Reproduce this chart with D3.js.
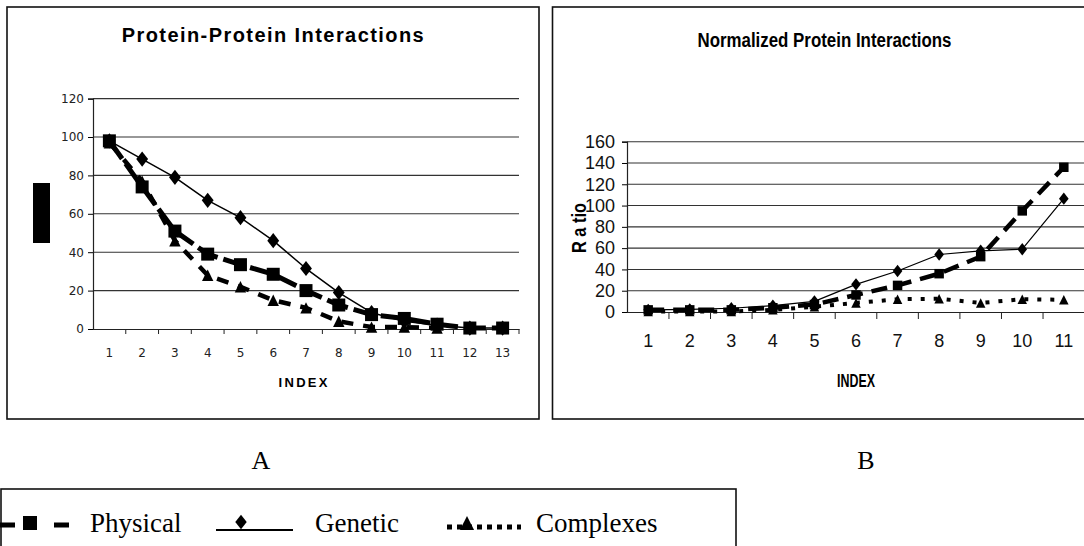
<!DOCTYPE html>
<html><head><meta charset="utf-8">
<script src="https://cdn.jsdelivr.net/npm/d3@7"></script>
<style>body{margin:0;background:#fff;overflow:hidden} svg{display:block}</style>
</head><body><svg id="c" width="1084" height="546"></svg>
<script>
// ---------- data ----------
const indexA = [1,2,3,4,5,6,7,8,9,10,11,12,13];
const physicalA = [98,74,51,39,33.5,28.5,20,12.5,7.5,5.5,2.5,0.5,0.5];
const geneticA = [98,88.5,79,67,58,46,31.5,19,8.5,4,2,0.5,0.5];
const complexesA = [97,77,46,28,22,15,11,4,1,1,0.5];
const yTicksA = [0,20,40,60,80,100,120];

const indexB = [1,2,3,4,5,6,7,8,9,10,11];
const physicalB = [2,2,2,4,7,16,25,36,52,95,136];
const geneticB = [2,2.5,3.5,6,10,26,38.5,54,57.5,59,106.5];
const complexesB = [0.5,0.5,0.5,2,5,8.5,12,12.5,8.5,12,11.5];
const yTicksB = [0,20,40,60,80,100,120,140,160];

const titleA = "Protein-Protein Interactions";
const titleB = "Normalized Protein Interactions";
const legendNames = ["Physical","Genetic","Complexes"];

// ---------- helpers ----------
const svg = d3.select("#c");
const diamond = {draw(ctx,size){const h=Math.sqrt(size)*0.62,w=h*0.78;ctx.moveTo(0,-h);ctx.lineTo(w,0);ctx.lineTo(0,h);ctx.lineTo(-w,0);ctx.closePath();}};
const square = {draw(ctx,size){const s=Math.sqrt(size)/2;ctx.rect(-s,-s,2*s,2*s);}};
const triangle = {draw(ctx,size){const s=Math.sqrt(size)/2;ctx.moveTo(0,-s);ctx.lineTo(s,s);ctx.lineTo(-s,s);ctx.closePath();}};

function drawSeries(g, x, y, idx, vals, st){
  const pts = vals.map((v,i)=>[x(idx[i])+x.bandwidth()/2, y(v)]);
  g.append("path").attr("d", d3.line()(pts)).attr("fill","none")
    .attr("stroke","#000").attr("stroke-width",st.w)
    .attr("stroke-dasharray",st.dash||null).attr("stroke-linejoin","round");
  g.selectAll(null).data(pts).enter().append("path")
    .attr("transform",d=>`translate(${d[0]},${d[1]})`)
    .attr("d", d3.symbol().type(st.sym).size(st.size)()).attr("fill","#000");
}

// ---------- frames ----------
svg.append("rect").attr("x",7).attr("y",7).attr("width",532).attr("height",412)
  .attr("fill","none").attr("stroke","#111").attr("stroke-width",1.6);
svg.append("rect").attr("x",552.5).attr("y",7).attr("width",560).attr("height",412)
  .attr("fill","none").attr("stroke","#111").attr("stroke-width",1.6);

// ---------- chart A ----------
const xA = d3.scaleBand().domain(indexA).range([93,519]);
const yA = d3.scaleLinear().domain([0,120]).range([329,98.6]);
const gA = svg.append("g");
gA.append("g").selectAll("line").data(yTicksA.filter(d=>d>0)).enter().append("line")
  .attr("x1",93).attr("x2",519).attr("y1",d=>yA(d)).attr("y2",d=>yA(d))
  .attr("stroke","#333").attr("stroke-width",1.1);
const axYA = gA.append("g").attr("transform","translate(93,0)")
  .call(d3.axisLeft(yA).tickValues(yTicksA).tickSize(5).tickPadding(4));
axYA.select(".domain").attr("stroke","#222").attr("stroke-width",1.2);
axYA.selectAll("text").attr("font-family","DejaVu Sans").attr("font-size",12).attr("fill","#222");
const axXA = gA.append("g").attr("transform","translate(0,329)")
  .call(d3.axisBottom(xA).tickSize(0).tickPadding(19));
axXA.select(".domain").attr("stroke","#222").attr("stroke-width",1.2);
axXA.selectAll("text").attr("font-family","DejaVu Sans").attr("font-size",12).attr("fill","#222");
gA.append("g").selectAll("line").data(indexA).enter().append("line")
  .attr("x1",d=>xA(d)+xA.bandwidth()).attr("x2",d=>xA(d)+xA.bandwidth())
  .attr("y1",329).attr("y2",334).attr("stroke","#222");
gA.append("text").attr("x",272.7).attr("y",42).attr("text-anchor","middle")
  .attr("font-family","Liberation Sans").attr("font-weight","bold").attr("font-size",20)
  .attr("textLength",302).attr("lengthAdjust","spacing").text(titleA);
gA.append("text").attr("x",303).attr("y",387).attr("text-anchor","middle")
  .attr("font-family","Liberation Sans").attr("font-weight","bold").attr("font-size",13)
  .attr("textLength",49).attr("lengthAdjust","spacing").text("INDEX");
gA.append("rect").attr("x",33).attr("y",183).attr("width",17).attr("height",60).attr("fill","#000");

const stA = {
  physical:{w:5, dash:"22,6", sym:square, size:169},
  genetic:{w:1.5, dash:null, sym:diamond, size:150},
  complexes:{w:4.5, dash:"12,10", sym:triangle, size:130}
};
drawSeries(gA,xA,yA,indexA,complexesA,stA.complexes);
drawSeries(gA,xA,yA,indexA,geneticA,stA.genetic);
drawSeries(gA,xA,yA,indexA,physicalA,stA.physical);

// ---------- chart B ----------
const xB = d3.scaleBand().domain(indexB).range([627.4,1084.6]);
const yB = d3.scaleLinear().domain([0,160]).range([312,141.7]);
const gB = svg.append("g");
gB.append("g").selectAll("line").data(yTicksB.filter(d=>d>0)).enter().append("line")
  .attr("x1",627).attr("x2",1084).attr("y1",d=>yB(d)).attr("y2",d=>yB(d))
  .attr("stroke","#333").attr("stroke-width",1.1);
const axYB = gB.append("g").attr("transform","translate(627,0)")
  .call(d3.axisLeft(yB).tickValues(yTicksB).tickSize(5).tickPadding(7));
axYB.select(".domain").attr("stroke","#222").attr("stroke-width",1.2);
axYB.selectAll("text").attr("font-family","Liberation Sans Narrow, Arial Narrow, sans-serif").attr("font-size",18).attr("fill","#111");
const axXB = gB.append("g").attr("transform","translate(0,312)")
  .call(d3.axisBottom(xB).tickSize(0).tickPadding(22));
axXB.select(".domain").attr("stroke","#222").attr("stroke-width",1.2);
axXB.selectAll("text").attr("font-family","Liberation Sans Narrow, Arial Narrow, sans-serif").attr("font-size",18).attr("fill","#111");
gB.append("g").selectAll("line").data(indexB).enter().append("line")
  .attr("x1",d=>xB(d)+xB.bandwidth()).attr("x2",d=>xB(d)+xB.bandwidth())
  .attr("y1",312).attr("y2",319).attr("stroke","#222");
gB.append("text").attr("x",824.5).attr("y",47).attr("text-anchor","middle")
  .attr("font-family","Liberation Sans Narrow, Arial Narrow, sans-serif").attr("font-weight","bold").attr("font-size",20)
  .attr("textLength",254).attr("lengthAdjust","spacingAndGlyphs").text(titleB);
gB.append("text").attr("x",856).attr("y",387).attr("text-anchor","middle")
  .attr("font-family","Liberation Sans Narrow, Arial Narrow, sans-serif").attr("font-weight","bold").attr("font-size",19)
  .attr("textLength",38).attr("lengthAdjust","spacingAndGlyphs").text("INDEX");
gB.append("text").attr("transform","translate(586,228) rotate(-90)").attr("text-anchor","middle")
  .attr("font-family","Liberation Sans Narrow, Arial Narrow, sans-serif").attr("font-weight","bold").attr("font-size",20)
  .attr("textLength",50).attr("lengthAdjust","spacingAndGlyphs").text("R a tio");

const stB = {
  physical:{w:4.5, dash:"16,9", sym:square, size:90},
  genetic:{w:1.2, dash:null, sym:diamond, size:100},
  complexes:{w:4, dash:"4,9", sym:triangle, size:90}
};
drawSeries(gB,xB,yB,indexB,complexesB,stB.complexes);
drawSeries(gB,xB,yB,indexB,geneticB,stB.genetic);
drawSeries(gB,xB,yB,indexB,physicalB,stB.physical);

// ---------- captions ----------
svg.append("text").attr("x",261).attr("y",469).attr("text-anchor","middle")
  .attr("font-family","Liberation Serif").attr("font-size",26).text("A");
svg.append("text").attr("x",866).attr("y",469).attr("text-anchor","middle")
  .attr("font-family","Liberation Serif").attr("font-size",26).text("B");

// ---------- legend ----------
const lg = svg.append("g");
lg.append("rect").attr("x",1).attr("y",489).attr("width",735).attr("height",80)
  .attr("fill","none").attr("stroke","#111").attr("stroke-width",1.6);
const legY = 522;
// Physical
lg.append("line").attr("x1",0).attr("x2",69).attr("y1",legY+3).attr("y2",legY+3)
  .attr("stroke","#000").attr("stroke-width",5).attr("stroke-dasharray","15,39");
lg.append("path").attr("transform",`translate(30,${legY+1})`).attr("d",d3.symbol().type(square).size(196)()).attr("fill","#000");
// Genetic
lg.append("line").attr("x1",216).attr("x2",293).attr("y1",legY+8).attr("y2",legY+8)
  .attr("stroke","#000").attr("stroke-width",2);
lg.append("path").attr("transform",`translate(241,${legY})`).attr("d",d3.symbol().type(diamond).size(140)()).attr("fill","#000");
// Complexes
lg.append("line").attr("x1",447).attr("x2",521).attr("y1",legY+5).attr("y2",legY+5)
  .attr("stroke","#000").attr("stroke-width",5).attr("stroke-dasharray","5,5");
lg.append("path").attr("transform",`translate(467,${legY+1})`).attr("d",d3.symbol().type(triangle).size(200)()).attr("fill","#000");
const legX = [90,315,536];
lg.selectAll("text.leg").data(legendNames).enter().append("text")
  .attr("x",(d,i)=>legX[i]).attr("y",532)
  .attr("font-family","Liberation Serif").attr("font-size",27).text(d=>d);
</script></body></html>
